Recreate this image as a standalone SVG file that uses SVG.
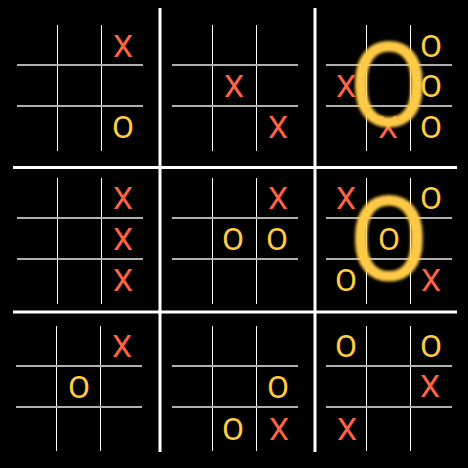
<svg xmlns="http://www.w3.org/2000/svg" width="468" height="468" viewBox="0 0 468 468">
<style>
.bg{fill:#000}
.big{stroke:#fff;stroke-width:3}
.v{stroke:#fff;stroke-width:1}
.h{stroke:#b0b0b0;stroke-width:2}
.x{fill:#ff6347;font-family:Roboto,"Liberation Sans",sans-serif;font-size:32px;text-anchor:middle}
.o{fill:#ffcb47;font-family:Roboto,"Liberation Sans",sans-serif;font-size:32px;text-anchor:middle}
.win{fill:#ffcb47;stroke:#ffcb47;stroke-width:1.2;font-family:Roboto,"Liberation Sans",sans-serif;font-size:116px;font-weight:normal;text-anchor:middle;filter:url(#glow)}
</style>
<defs>
<filter id="glow" x="-30%" y="-30%" width="160%" height="160%">
<feGaussianBlur stdDeviation="1.8"/>
</filter>
</defs>
<rect class="bg" x="0" y="0" width="468" height="468"/>
<g id="main-grid">
<line class="big" x1="160" y1="8" x2="160" y2="452"/>
<line class="big" x1="315" y1="8" x2="315" y2="452"/>
<line class="big" x1="13" y1="167.5" x2="457" y2="167.5"/>
<line class="big" x1="13" y1="312" x2="457" y2="312"/>
</g>
<g id="board-tl">
<line class="v" x1="57.5" y1="25" x2="57.5" y2="151"/>
<line class="v" x1="101.5" y1="25" x2="101.5" y2="151"/>
<line class="h" x1="17" y1="65" x2="143" y2="65"/>
<line class="h" x1="17" y1="106" x2="143" y2="106"/>
<text class="x" x="123" y="57">X</text>
<text class="o" x="123" y="138">O</text>
</g>
<g id="board-tm">
<line class="v" x1="212.5" y1="25" x2="212.5" y2="151"/>
<line class="v" x1="256.5" y1="25" x2="256.5" y2="151"/>
<line class="h" x1="172" y1="65" x2="298" y2="65"/>
<line class="h" x1="172" y1="106" x2="298" y2="106"/>
<text class="x" x="234" y="97">X</text>
<text class="x" x="278" y="138">X</text>
</g>
<g id="board-tr">
<line class="v" x1="366.5" y1="25" x2="366.5" y2="151"/>
<line class="v" x1="410.5" y1="25" x2="410.5" y2="151"/>
<line class="h" x1="326" y1="65" x2="452" y2="65"/>
<line class="h" x1="326" y1="106" x2="452" y2="106"/>
<text class="o" x="431" y="57">O</text>
<text class="x" x="346" y="97">X</text>
<text class="o" x="431" y="97">O</text>
<text class="x" x="388" y="138">X</text>
<text class="o" x="431" y="138">O</text>
<text class="win" x="389" y="126">O</text>
</g>
<g id="board-ml">
<line class="v" x1="57.5" y1="178" x2="57.5" y2="304"/>
<line class="v" x1="101.5" y1="178" x2="101.5" y2="304"/>
<line class="h" x1="17" y1="218" x2="143" y2="218"/>
<line class="h" x1="17" y1="259" x2="143" y2="259"/>
<text class="x" x="123" y="209">X</text>
<text class="x" x="123" y="250">X</text>
<text class="x" x="123" y="291">X</text>
</g>
<g id="board-mm">
<line class="v" x1="212.5" y1="178" x2="212.5" y2="304"/>
<line class="v" x1="256.5" y1="178" x2="256.5" y2="304"/>
<line class="h" x1="172" y1="218" x2="298" y2="218"/>
<line class="h" x1="172" y1="259" x2="298" y2="259"/>
<text class="x" x="278" y="209">X</text>
<text class="o" x="233" y="250">O</text>
<text class="o" x="277" y="250">O</text>
</g>
<g id="board-mr">
<line class="v" x1="366.5" y1="178" x2="366.5" y2="304"/>
<line class="v" x1="410.5" y1="178" x2="410.5" y2="304"/>
<line class="h" x1="326" y1="218" x2="452" y2="218"/>
<line class="h" x1="326" y1="259" x2="452" y2="259"/>
<text class="x" x="346" y="209">X</text>
<text class="o" x="431" y="209">O</text>
<text class="o" x="389" y="250">O</text>
<text class="o" x="346" y="291">O</text>
<text class="x" x="431" y="291">X</text>
<text class="win" x="389" y="279.5">O</text>
</g>
<g id="board-bl">
<line class="v" x1="56.5" y1="326" x2="56.5" y2="451"/>
<line class="v" x1="100.5" y1="326" x2="100.5" y2="451"/>
<line class="h" x1="16" y1="366" x2="142" y2="366"/>
<line class="h" x1="16" y1="407" x2="142" y2="407"/>
<text class="x" x="122" y="357">X</text>
<text class="o" x="79" y="398">O</text>
</g>
<g id="board-bm">
<line class="v" x1="212.5" y1="326" x2="212.5" y2="451"/>
<line class="v" x1="256.5" y1="326" x2="256.5" y2="451"/>
<line class="h" x1="172" y1="366" x2="298" y2="366"/>
<line class="h" x1="172" y1="407" x2="298" y2="407"/>
<text class="o" x="278" y="398">O</text>
<text class="o" x="233" y="440">O</text>
<text class="x" x="279" y="440">X</text>
</g>
<g id="board-br">
<line class="v" x1="366.5" y1="326" x2="366.5" y2="451"/>
<line class="v" x1="410.5" y1="326" x2="410.5" y2="451"/>
<line class="h" x1="326" y1="366" x2="452" y2="366"/>
<line class="h" x1="326" y1="407" x2="452" y2="407"/>
<text class="o" x="346" y="357">O</text>
<text class="o" x="431" y="357">O</text>
<text class="x" x="430" y="397">X</text>
<text class="x" x="347" y="440">X</text>
</g>
</svg>
